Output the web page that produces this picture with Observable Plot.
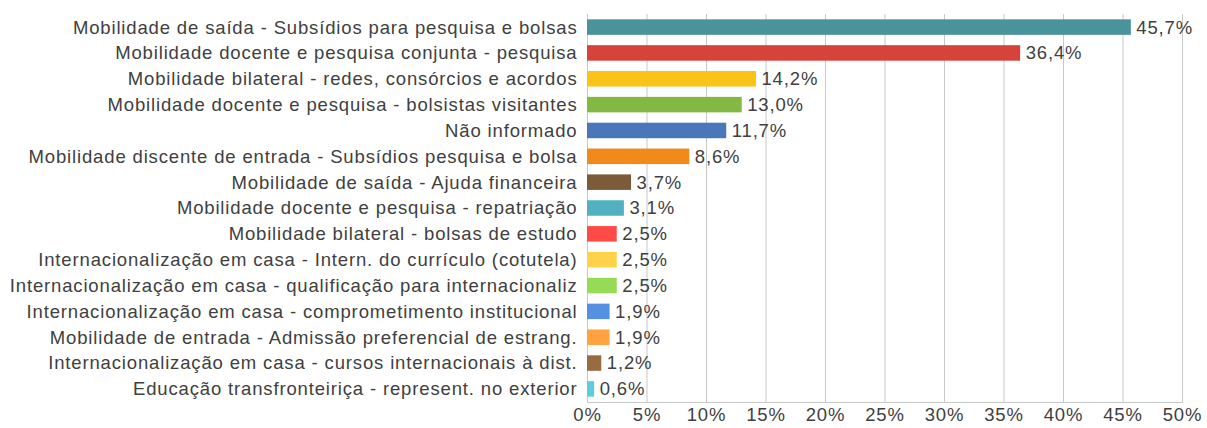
<!DOCTYPE html>
<html>
<head>
<meta charset="utf-8">
<script src="https://cdn.jsdelivr.net/npm/d3@7"></script>
<script src="https://cdn.jsdelivr.net/npm/@observablehq/plot@0.6"></script>
<style>
  html, body { margin: 0; padding: 0; background: #fff; }
  #chart svg { display: block; }
  #chart svg text { letter-spacing: 0.85px; }
</style>
</head>
<body>
<div id="chart"></div>
<script>
const categories = [
  "Mobilidade de saída - Subsídios para pesquisa e bolsas",
  "Mobilidade docente e pesquisa conjunta - pesquisa",
  "Mobilidade bilateral - redes, consórcios e acordos",
  "Mobilidade docente e pesquisa - bolsistas visitantes",
  "Não informado",
  "Mobilidade discente de entrada - Subsídios pesquisa e bolsa",
  "Mobilidade de saída - Ajuda financeira",
  "Mobilidade docente e pesquisa - repatriação",
  "Mobilidade bilateral - bolsas de estudo",
  "Internacionalização em casa - Intern. do currículo (cotutela)",
  "Internacionalização em casa - qualificação para internacionaliz",
  "Internacionalização em casa - comprometimento institucional",
  "Mobilidade de entrada - Admissão preferencial de estrang.",
  "Internacionalização em casa - cursos internacionais à dist.",
  "Educação transfronteiriça - represent. no exterior"
];
const values = [45.7, 36.4, 14.2, 13.0, 11.7, 8.6, 3.7, 3.1, 2.5, 2.5, 2.5, 1.9, 1.9, 1.2, 0.6];
const colors = [
  "#4a939b", "#d6433b", "#fbc318", "#82b942", "#4a77ba",
  "#f08a1b", "#7d5a3a", "#52b1c0", "#ff4b47", "#ffd24a",
  "#95db56", "#5690e0", "#ffa23f", "#9a6a40", "#5ccddb"
];
const xTicks = [0, 5, 10, 15, 20, 25, 30, 35, 40, 45, 50];

const data = categories.map((c, i) => ({category: c, value: values[i], color: colors[i]}));
const fmt = v => v.toFixed(1).replace(".", ",") + "%";

const chart = Plot.plot({
  width: 1207,
  height: 428,
  marginLeft: 587,
  marginRight: 25,
  marginTop: 14,
  marginBottom: 26,
  style: {fontFamily: "'Liberation Sans', Arial, sans-serif", fontSize: "18.5px", color: "#404040", background: "#fff"},
  x: {domain: [0, 50]},
  y: {domain: categories, padding: 0.4, range: [9, 407], round: false},
  marks: [
    Plot.ruleX(xTicks, {stroke: "#c8c8c8", strokeWidth: 1}),
    Plot.frame({anchor: "bottom", stroke: "#c8c8c8"}),
    Plot.barX(data, {y: "category", x: "value", fill: "color"}),
    Plot.text(data, {y: "category", x: "value", text: d => fmt(d.value), textAnchor: "start", dx: 5, fill: "#404040", fontSize: 18.5}),
    Plot.axisY({tickSize: 0, tickPadding: 10, label: null, fontSize: 18.5}),
    Plot.axisX({ticks: xTicks, tickSize: 0, tickPadding: 5, tickFormat: d => d + "%", label: null, fontSize: 18.5})
  ]
});
document.getElementById("chart").appendChild(chart);
</script>
</body>
</html>
